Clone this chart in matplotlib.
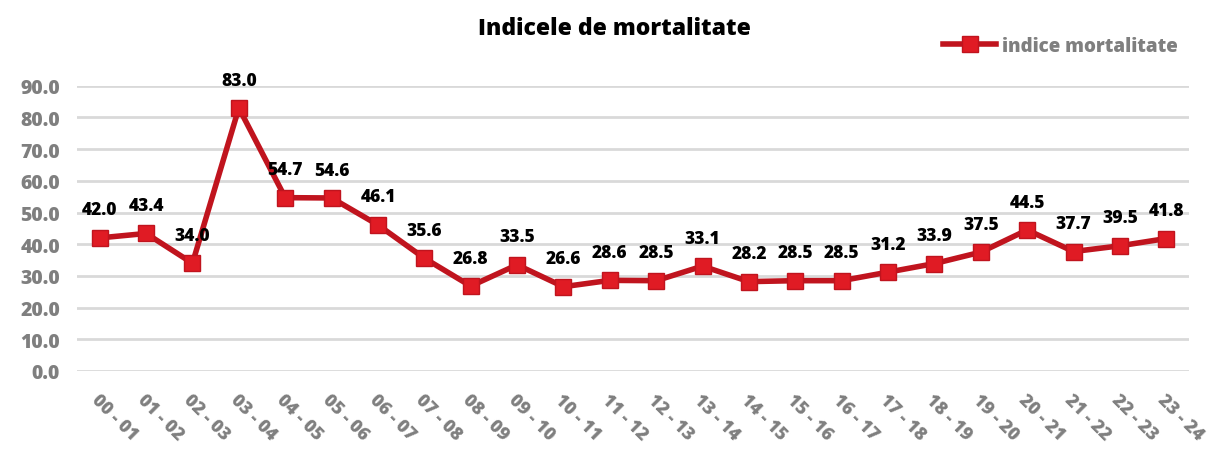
import matplotlib
matplotlib.use('Agg')
import matplotlib.pyplot as plt

# data
categories = ['00 - 01', '01 - 02', '02 - 03', '03 - 04', '04 - 05', '05 - 06', '06 - 07',
              '07 - 08', '08 - 09', '09 - 10', '10 - 11', '11 - 12', '12 - 13', '13 - 14',
              '14 - 15', '15 - 16', '16 - 17', '17 - 18', '18 - 19', '19 - 20', '20 - 21',
              '21 - 22', '22 - 23', '23 - 24']
indice = [42.0, 43.4, 34.0, 83.0, 54.7, 54.6, 46.1, 35.6, 26.8, 33.5, 26.6, 28.6,
          28.5, 33.1, 28.2, 28.5, 28.5, 31.2, 33.9, 37.5, 44.5, 37.7, 39.5, 41.8]
yticks = [0, 10, 20, 30, 40, 50, 60, 70, 80, 90]

plt.rcParams['font.family'] = ['Open Sans', 'DejaVu Sans']

fig = plt.figure(figsize=(12.15, 4.52), dpi=100)
ax = fig.add_axes([0.063, 0.177, 0.916, 0.631])

x = list(range(len(categories)))
ax.plot(x, indice, color='#C0141E', lw=4, marker='s', ms=12,
        markerfacecolor='#E01B24', markeredgecolor='#C0141E', markeredgewidth=1,
        label='indice mortalitate', clip_on=False, zorder=3)

# value labels above points
for xi, v in zip(x, indice):
    ax.annotate(f'{v:.1f}', (xi, v), xytext=(0, 14), textcoords='offset points',
                ha='center', va='bottom', fontsize=12.5, fontweight=800, color='black')

ax.set_xlim(-0.5, len(categories) - 0.5)
ax.set_ylim(0, 90)
ax.set_yticks(yticks)
ax.set_yticklabels([f'{t:.1f}' for t in yticks], fontsize=14, fontweight=800, color='#7F7F7F')
ax.set_xticks(x)
ax.set_xticklabels(categories, rotation=-45, ha='left', va='top', rotation_mode='anchor',
                   fontsize=13, fontweight=800, color='#7F7F7F')
ax.tick_params(axis='both', length=0)
ax.tick_params(axis='y', pad=12)
ax.tick_params(axis='x', pad=14)
ax.grid(axis='y', color='#D9D9D9', lw=2)
ax.set_axisbelow(True)
for s in ax.spines.values():
    s.set_visible(False)

fig.text(0.506, 0.935, 'Indicele de mortalitate', ha='center', va='center',
         fontsize=16.5, fontweight=800, color='black')

leg = ax.legend(loc='center', bbox_to_anchor=(0.884, 1.14), frameon=False, handlelength=2.8,
                handletextpad=0.3, prop={'size': 13.5, 'weight': 800})
for t in leg.get_texts():
    t.set_color('#7F7F7F')

fig.savefig('out.png', dpi=100)
